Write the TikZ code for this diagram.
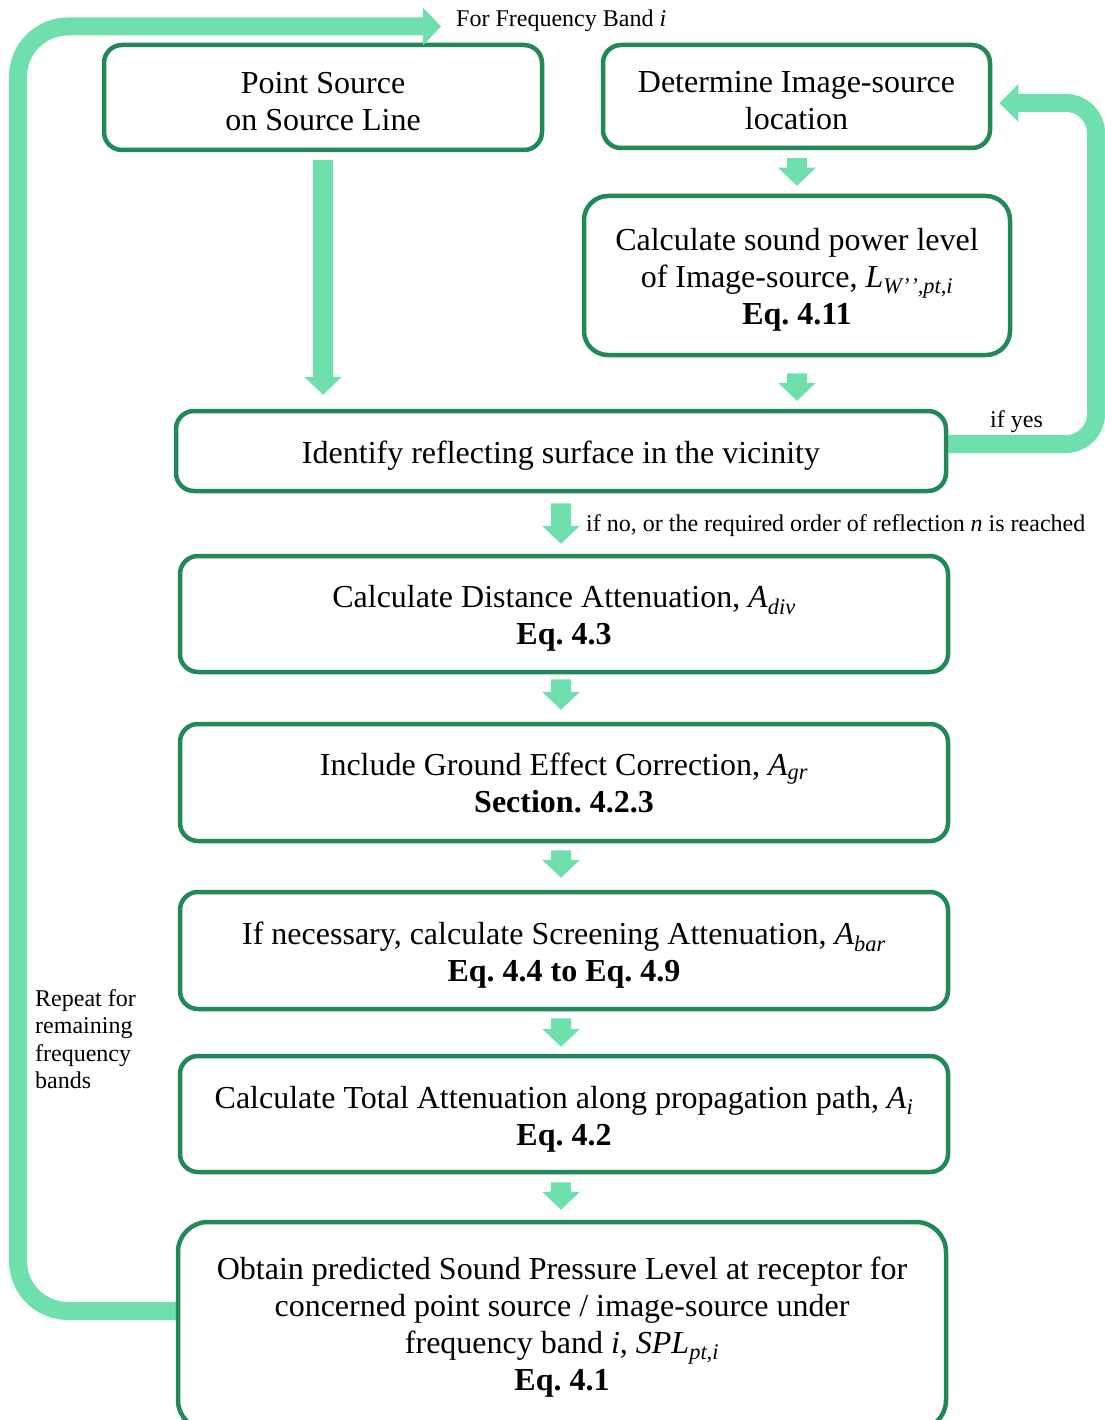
\documentclass[tikz,border=0pt]{standalone}
\usepackage{fontspec}
\setmainfont{Liberation Serif}
\usetikzlibrary{calc,backgrounds}
\definecolor{boxgreen}{RGB}{34,136,90}
\definecolor{flowgreen}{RGB}{112,223,174}
\tikzset{
  stepbox/.style={draw=boxgreen, line width=4.5pt, rounded corners=18pt, fill=white,
    inner sep=0pt, align=center, font=\fontsize{32}{37}\selectfont\frenchspacing},
  loopline/.style={draw=flowgreen, line width=18pt, line cap=butt},
  note/.style={font=\fontsize{24}{27.5}\selectfont\frenchspacing, inner sep=0pt},
}
% strut on the first line of a box text, to place the text block vertically
\newcommand\ts[1]{\rule{0pt}{#1pt}}
% vertical block arrow from #1 down to #2 (x taken from #1)
\newcommand\blockdown[2]{%
  \fill[flowgreen] let \p1=#1, \p2=#2 in
    (\x1-10pt,\y1) -- (\x1+10pt,\y1) -- (\x1+10pt,\y2+18pt) -- (\x1+19pt,\y2+18pt)
    -- (\x1,\y2) -- (\x1-19pt,\y2+18pt) -- (\x1-10pt,\y2+18pt) -- cycle;}
\begin{document}
\begin{tikzpicture}[x=1pt,y=-1pt]
\useasboundingbox (0,0) rectangle (1104,1420);

\node[stepbox, minimum width=438pt, minimum height=105pt] (b1) at (323,97.5)
  {\ts{29.5}Point Source\\on Source Line};
\node[stepbox, minimum width=387pt, minimum height=103pt] (b2) at (796.5,96.5)
  {\ts{29.2}Determine Image-source\\location};
\node[stepbox, rounded corners=24pt, minimum width=426pt, minimum height=159pt] (b3) at (797,275.5)
  {\ts{31}Calculate sound power level\\of Image-source, \textit{L}\textsubscript{\textit{W’\kern0.8pt’,pt,i}}\\\textbf{Eq. 4.11}};
\node[stepbox, minimum width=770pt, minimum height=80pt] (b4) at (561,451)
  {\ts{32}Identify reflecting surface in the vicinity};
\node[stepbox, minimum width=768pt, minimum height=116pt] (b5) at (564,614)
  {\ts{30}Calculate Distance Attenuation, \textit{A}\textsubscript{\textit{div}}\\\textbf{Eq. 4.3}};
\node[stepbox, minimum width=768pt, minimum height=117pt] (b6) at (564,782.5)
  {\ts{24}Include Ground Effect Correction, \textit{A}\textsubscript{\textit{gr}}\\\textbf{Section. 4.2.3}};
\node[stepbox, minimum width=768pt, minimum height=117pt] (b7) at (564,950.5)
  {\ts{32}If necessary, calculate Screening Attenuation, \textit{A}\textsubscript{\textit{bar}}\\\textbf{Eq. 4.4 to Eq. 4.9}};
\node[stepbox, minimum width=768pt, minimum height=116pt] (b8) at (564,1114)
  {\ts{32}Calculate Total Attenuation along propagation path, \textit{A}\textsubscript{\textit{i}}\\\textbf{Eq. 4.2}};
\node[stepbox, rounded corners=30pt, minimum width=768pt, minimum height=208pt] (b9) at (562,1326)
  {\ts{25}Obtain predicted Sound Pressure Level at receptor for\\concerned point source / image-source under\\frequency band \textit{i, SPL}\textsubscript{\textit{pt,i}}\\\textbf{Eq. 4.1}};

% block arrows between steps
\blockdown{($(b1.south)+(0,8)$)}{($(b4.north)+(0,-14)$)}
\blockdown{($(b2.south)+(0.5,8)$)}{($(b3.north)+(0,-8)$)}
\blockdown{($(b3.south)+(0,16)$)}{($(b4.north)+(0,-8)$)}
\blockdown{($(b4.south)+(0,10)$)}{($(b5.north)+(0,-10)$)}
\blockdown{($(b5.south)+(-3,5)$)}{($(b6.north)+(0,-12)$)}
\blockdown{($(b6.south)+(-3,7)$)}{($(b7.north)+(0,-12)$)}
\blockdown{($(b7.south)+(-3,7)$)}{($(b8.north)+(0,-7)$)}
\blockdown{($(b8.south)+(-3,8)$)}{($(b9.north)+(0,-10)$)}

% loops
\coordinate (bandtip) at (441,26.5);
\coordinate (imgtip) at ($(b2.east |- 0,103)+(7,0)$);
\begin{scope}[on background layer]
  \draw[loopline, rounded corners=50pt] (b9.west |- 0,1311) -- (18,1311) -- (18,26.5) -- ($(bandtip)+(-18,0)$);
  \draw[loopline, rounded corners=30pt] (b4.east |- 0,444) -- (1096,444) -- (1096,103) -- ($(imgtip)+(18,0)$);
\end{scope}
\fill[flowgreen] ($(bandtip)+(-18,-19)$) -- (bandtip) -- ($(bandtip)+(-18,19)$) -- cycle;
\fill[flowgreen] ($(imgtip)+(19,-19)$) -- (imgtip) -- ($(imgtip)+(19,19)$) -- cycle;

% labels
\node[note, anchor=west] (lband) at (456,21) {For Frequency Band \textit{i}};
\node[note, anchor=west] (lyes) at (990,422) {if yes};
\node[note, anchor=west] (lno) at (586,526) {if no, or the required order of reflection \textit{n} is reached};
\node[note, anchor=north west, align=left] (lrep) at (35,989) {Repeat for\\remaining\\frequency\\bands};
\end{tikzpicture}
\end{document}
